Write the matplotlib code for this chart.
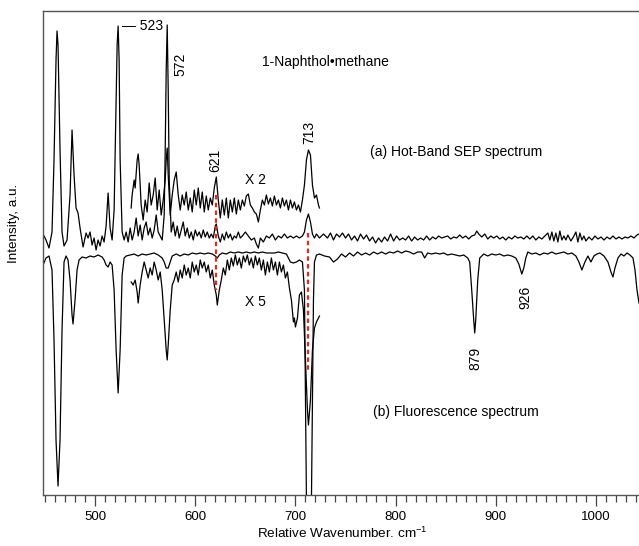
import matplotlib
matplotlib.use("Agg")
import matplotlib.pyplot as plt
from matplotlib.ticker import MultipleLocator

plt.rcParams['font.family'] = ['Liberation Sans', 'DejaVu Sans']
plt.rcParams['mathtext.fontset'] = 'custom'
plt.rcParams['mathtext.rm'] = 'Liberation Sans'
plt.rcParams['mathtext.it'] = 'Liberation Sans'

# (a) hot-band SEP spectrum, full range
sep_wn = [448, 451, 454, 457, 459, 461, 462, 463, 465, 467, 469, 472, 475, 477, 479, 481, 483, 485, 488,
          491, 493, 495, 497, 499, 501, 503, 505, 507, 509, 511, 513, 515, 517, 519, 521, 522, 523, 524,
          525, 527, 529, 531, 533, 535, 537, 539, 541, 543, 545, 547, 549, 551, 553, 555, 557, 559, 561,
          563, 565, 567, 569, 570, 571, 572, 573, 574, 576, 578, 580, 582, 584, 586, 588, 590, 592, 594,
          596, 598, 600, 602, 604, 606, 608, 610, 612, 614, 616, 618, 620, 621, 623, 625, 627, 629, 631,
          633, 635, 637, 639, 641, 643, 645, 647, 650, 653, 656, 659, 661, 663, 665, 668, 671, 674, 677,
          680, 683, 686, 689, 692, 695, 698, 701, 704, 707, 709, 711, 713, 715, 717, 719, 721, 724, 728,
          732, 735, 738, 741, 744, 747, 750, 753, 756, 759, 762, 765, 768, 771, 774, 777, 780, 783, 786,
          789, 792, 795, 798, 801, 804, 807, 810, 813, 816, 819, 822, 825, 828, 831, 834, 837, 840, 843,
          846, 849, 852, 855, 858, 861, 864, 867, 870, 873, 876, 879, 881, 883, 886, 889, 892, 895, 898,
          901, 904, 907, 910, 913, 916, 919, 922, 925, 928, 931, 934, 937, 940, 943, 946, 949, 952, 954,
          956, 958, 960, 962, 964, 966, 968, 970, 972, 975, 978, 980, 982, 984, 986, 988, 990, 993, 996,
          999, 1002, 1005, 1008, 1011, 1014, 1017, 1020, 1023, 1026, 1029, 1032, 1035, 1038, 1041, 1043]
sep_int = [261, 255, 247, 263, 335, 435, 464, 450, 345, 263, 249, 255, 300, 365, 320, 287, 282, 267, 248,
           262, 257, 263, 250, 257, 245, 255, 249, 259, 253, 269, 302, 267, 255, 285, 395, 450, 469, 435,
           335, 263, 255, 263, 253, 267, 255, 263, 277, 259, 270, 255, 267, 273, 260, 267, 257, 265, 280,
           263, 259, 255, 280, 345, 425, 470, 405, 315, 263, 273, 259, 269, 257, 265, 273, 259, 267, 257,
           263, 255, 265, 259, 263, 257, 265, 258, 263, 257, 261, 257, 269, 271, 259, 253, 261, 255, 263,
           257, 261, 255, 259, 257, 263, 257, 259, 263, 259, 255, 257, 251, 247, 257, 253, 259, 257, 261,
           255, 259, 257, 261, 257, 259, 257, 259, 257, 259, 263, 275, 281, 273, 261, 257, 261, 257, 261,
           257, 262, 255, 261, 258, 262, 257, 261, 255, 259, 254, 261, 256, 260, 254, 258, 252, 257, 253,
           258, 254, 261, 254, 259, 255, 257, 255, 259, 254, 258, 255, 257, 255, 259, 255, 258, 256, 259,
           257, 258, 259, 256, 258, 257, 260, 257, 259, 256, 259, 260, 264, 261, 258, 261, 256, 259, 257,
           259, 256, 258, 255, 258, 256, 259, 257, 258, 256, 259, 256, 259, 255, 258, 256, 259, 262, 255,
           263, 254, 262, 253, 264, 255, 259, 255, 260, 254, 259, 263, 253, 262, 255, 259, 254, 258, 255,
           259, 256, 258, 255, 258, 256, 259, 256, 258, 256, 258, 257, 259, 257, 260, 261]

# SEP spectrum x 2 segment
sep2_wn = [536, 537, 539, 540, 542, 543, 544, 546, 548, 550, 552, 554, 556, 558, 560, 562, 564, 566, 568,
           570, 571, 572, 573, 575, 577, 579, 581, 583, 585, 587, 589, 591, 593, 595, 597, 599, 601, 603,
           605, 607, 609, 611, 613, 615, 617, 619, 621, 623, 625, 627, 629, 631, 633, 635, 637, 639, 641,
           643, 645, 647, 649, 651, 653, 655, 657, 659, 661, 663, 665, 667, 669, 671, 673, 675, 677, 679,
           681, 683, 685, 687, 689, 691, 693, 695, 697, 699, 701, 703, 705, 707, 709, 711, 713, 715, 717,
           719, 721, 723, 724]
sep2_int = [287, 300, 315, 307, 335, 341, 330, 290, 275, 295, 283, 312, 290, 300, 317, 285, 305, 280, 295,
            315, 335, 347, 320, 280, 300, 315, 323, 300, 285, 300, 290, 303, 285, 297, 283, 305, 290, 307,
            287, 303, 283, 299, 285, 297, 290, 307, 318, 295, 277, 295, 280, 297, 277, 295, 283, 297, 281,
            295, 285, 295, 289, 299, 301, 290, 287, 283, 281, 273, 285, 295, 290, 300, 291, 297, 289, 299,
            290, 295, 287, 297, 289, 295, 285, 295, 287, 293, 285, 290, 283, 295, 310, 335, 345, 340, 310,
            297, 300, 290, 287]

# (b) fluorescence spectrum, full range
flu_wn = [448, 451, 454, 457, 459, 461, 463, 465, 467, 469, 471, 473, 475, 477, 478, 480, 482, 484, 487,
          491, 495, 499, 503, 507, 509, 511, 513, 515, 517, 519, 521, 523, 525, 527, 529, 531, 535, 539,
          543, 547, 551, 555, 559, 563, 567, 569, 571, 573, 575, 577, 581, 585, 589, 593, 597, 601, 605,
          609, 613, 617, 620, 622, 624, 627, 631, 635, 639, 643, 647, 651, 655, 659, 663, 667, 671, 675,
          679, 683, 687, 691, 693, 695, 698, 701, 704, 707, 709, 710, 711, 713, 716, 717, 718, 719, 721,
          724, 729, 734, 738, 742, 746, 750, 754, 758, 762, 766, 770, 774, 778, 782, 786, 790, 794, 798,
          802, 806, 810, 814, 818, 822, 826, 829, 832, 836, 840, 844, 848, 852, 856, 860, 864, 868, 872,
          874, 876, 878, 879, 880, 882, 884, 888, 892, 896, 900, 904, 908, 912, 916, 920, 923, 926, 928,
          930, 932, 936, 940, 944, 948, 952, 956, 960, 964, 968, 972, 976, 980, 983, 986, 989, 992, 995,
          998, 1001, 1004, 1008, 1012, 1015, 1017, 1019, 1022, 1025, 1028, 1031, 1034, 1037, 1039, 1041, 1043]
flu_int = [230, 237, 239, 225, 155, 55, 9, 55, 165, 233, 239, 235, 215, 180, 171, 195, 225, 235, 238,
           237, 239, 238, 240, 238, 235, 230, 228, 233, 230, 205, 145, 102, 145, 220, 237, 239, 240, 241,
           239, 241, 240, 241, 242, 240, 237, 233, 227, 227, 233, 239, 241, 239, 241, 240, 242, 241, 242,
           241, 242, 241, 239, 237, 240, 242, 241, 243, 242, 243, 242, 243, 242, 243, 242, 243, 242, 242,
           242, 243, 242, 241, 237, 233, 232, 233, 235, 233, 205, 95, -5, -120, -5, 95, 195, 233, 240,
           241, 239, 238, 233, 236, 241, 238, 242, 239, 243, 240, 242, 240, 243, 241, 243, 241, 243, 242,
           244, 242, 244, 243, 241, 243, 243, 237, 242, 241, 242, 241, 242, 240, 241, 240, 239, 240, 237,
           233, 205, 175, 162, 175, 215, 237, 241, 239, 241, 240, 241, 239, 240, 239, 237, 231, 221, 227,
           237, 243, 241, 242, 240, 242, 241, 243, 241, 242, 243, 241, 242, 239, 233, 225, 233, 239, 233,
           239, 241, 242, 239, 233, 223, 218, 227, 237, 241, 239, 242, 240, 237, 225, 205, 192]

# fluorescence spectrum x 5 segment
flu5_wn = [536, 538, 540, 542, 543, 545, 547, 549, 551, 553, 555, 557, 559, 561, 563, 565, 567, 569, 571,
           572, 573, 575, 577, 579, 581, 583, 585, 587, 589, 591, 593, 595, 597, 599, 601, 603, 605, 607,
           609, 611, 613, 615, 617, 619, 621, 622, 624, 626, 628, 630, 632, 634, 636, 638, 640, 642, 644,
           646, 648, 650, 652, 654, 656, 658, 660, 662, 664, 666, 668, 670, 672, 674, 676, 678, 680, 682,
           684, 686, 688, 690, 692, 694, 696, 698, 699, 700, 702, 704, 706, 708, 710, 712, 713, 715, 717,
           719, 721, 723, 724]
flu5_int = [213, 210, 215, 203, 192, 210, 223, 233, 225, 217, 227, 220, 233, 225, 215, 223, 205, 175, 145,
            135, 150, 185, 210, 215, 223, 213, 225, 217, 230, 220, 227, 217, 233, 223, 230, 220, 235, 227,
            233, 223, 230, 217, 225, 210, 200, 190, 205, 215, 227, 220, 235, 225, 237, 229, 240, 230, 237,
            227, 239, 233, 240, 230, 237, 227, 239, 230, 237, 225, 235, 220, 233, 223, 237, 225, 233, 220,
            233, 223, 230, 217, 223, 207, 195, 173, 177, 168, 177, 200, 203, 185, 135, 85, 70, 95, 145,
            167, 173, 177, 179]

# red dashed correlation lines
link_wn = [620.5, 713]
link_top = [300, 262]
link_bot = [205, 123]

fig = plt.figure(figsize=(6.39, 5.46), dpi=100)
ax = fig.add_axes([43 / 639, 51 / 546, 596 / 639, 484 / 546])

for xs, ys in [(sep_wn, sep_int), (sep2_wn, sep2_int), (flu_wn, flu_int), (flu5_wn, flu5_int)]:
    ax.plot(xs, ys, color='black', lw=0.9)

for x, y0, y1 in zip(link_wn, link_top, link_bot):
    ax.plot([x, x], [y0, y1], color='#e8261c', lw=1.6, ls=(0, (2, 1.5)))

ax.set_xlim(448, 1043)
ax.set_ylim(0, 484)
ax.xaxis.set_major_locator(MultipleLocator(100))
ax.xaxis.set_minor_locator(MultipleLocator(10))
ax.tick_params(axis='x', which='major', length=8, width=0.9, direction='out', labelsize=9.5, color='#444444')
ax.tick_params(axis='x', which='minor', length=5, width=0.9, direction='out', color='#444444')
ax.set_yticks([])
for s in ['left', 'bottom', 'top']:
    ax.spines[s].set_color('#555555')
    ax.spines[s].set_linewidth(1.0)
ax.spines['right'].set_visible(False)

ax.set_xlabel('Relative Wavenumber. cm$^{-1}$', fontsize=9.7)
ax.xaxis.set_label_coords(0.502, -0.064)
ax.set_ylabel('Intensity, a.u.', fontsize=9.7)
ax.yaxis.set_label_coords(-0.038, 0.562)

fs = 10
ax.text(667, 433, '1-Naphthol\u2022methane', fontsize=fs, va='center')
ax.text(774, 343, '(a) Hot-Band SEP spectrum', fontsize=fs, va='center')
ax.text(777, 83, '(b) Fluorescence spectrum', fontsize=fs, va='center')
ax.text(650, 315, 'X 2', fontsize=fs, va='center')
ax.text(650, 193, 'X 5', fontsize=fs, va='center')
ax.text(527, 469, '\u2014 523', fontsize=fs, va='center')
for lab, x, y in [('572', 585, 431), ('621', 619.5, 335), ('713', 714, 363), ('879', 880, 137), ('926', 930, 198)]:
    ax.text(x, y, lab, fontsize=fs, rotation=90, ha='center', va='center')

plt.savefig('out.png', dpi=100)
